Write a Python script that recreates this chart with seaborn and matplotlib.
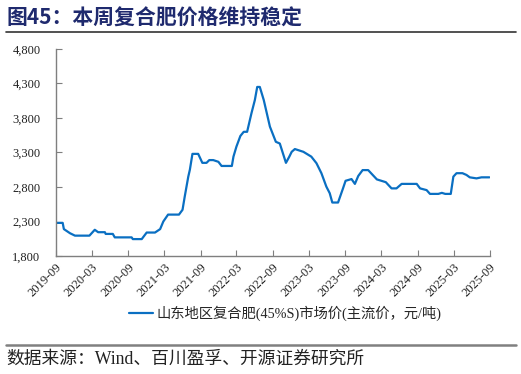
import pandas as pd
import numpy as np
import seaborn as sns
import matplotlib.pyplot as plt
import matplotlib.dates as mdates
from matplotlib.lines import Line2D
from matplotlib.ticker import FuncFormatter

# Data (Shandong compound fertilizer 45%S, yuan/ton)
dates = [
    "2019-09-01", "2019-10-06", "2019-10-12", "2019-11-12", "2019-12-07", "2020-02-18",
    "2020-03-16", "2020-04-02", "2020-05-06", "2020-05-10", "2020-06-15", "2020-06-25",
    "2020-09-18", "2020-09-24", "2020-11-08", "2020-12-03", "2021-01-14", "2021-02-09",
    "2021-02-25", "2021-03-21", "2021-05-15", "2021-06-02", "2021-06-13", "2021-07-01",
    "2021-07-09", "2021-07-22", "2021-08-20", "2021-09-10", "2021-10-01", "2021-10-15",
    "2021-11-04", "2021-11-30", "2021-12-16", "2022-02-06", "2022-02-14", "2022-03-01",
    "2022-03-21", "2022-04-07", "2022-04-24", "2022-05-16", "2022-06-02", "2022-06-14",
    "2022-06-27", "2022-07-17", "2022-08-17", "2022-09-16", "2022-10-06", "2022-11-06",
    "2022-11-23", "2022-12-05", "2022-12-21", "2023-02-02", "2023-03-14", "2023-04-09",
    "2023-05-04", "2023-05-29", "2023-06-15", "2023-06-28", "2023-07-27", "2023-08-21",
    "2023-09-03", "2023-10-03", "2023-10-20", "2023-11-06", "2023-11-28", "2023-12-26",
    "2024-02-08", "2024-03-24", "2024-04-22", "2024-05-17", "2024-06-12", "2024-08-27",
    "2024-09-13", "2024-10-16", "2024-11-02", "2024-12-14", "2025-01-01", "2025-01-18",
    "2025-02-15", "2025-02-28", "2025-03-16", "2025-04-15", "2025-05-05", "2025-05-22",
    "2025-06-25", "2025-07-20", "2025-08-29",
]
prices = [
    2280, 2280, 2190, 2130, 2095, 2095,
    2180, 2145, 2145, 2120, 2120, 2070,
    2070, 2045, 2045, 2140, 2140, 2190,
    2300, 2400, 2400, 2470, 2660, 2950,
    3050, 3280, 3280, 3150, 3150, 3190,
    3190, 3165, 3105, 3105, 3240, 3385,
    3540, 3600, 3600, 3870, 4060, 4250,
    4250, 4060, 3675, 3455, 3430, 3150,
    3240, 3310, 3350, 3310, 3240, 3145,
    3000, 2805, 2710, 2575, 2575, 2780,
    2890, 2915, 2845, 2960, 3045, 3045,
    2910, 2870, 2780, 2780, 2845, 2845,
    2780, 2755, 2700, 2700, 2715, 2700,
    2700, 2950, 3000, 3000, 2975, 2940,
    2925, 2940, 2940,
]
series_name = "山东地区复合肥(45%S)市场价(主流价，元/吨)"
y_ticks = [1800, 2300, 2800, 3300, 3800, 4300, 4800]
x_ticks = ["2019-09", "2020-03", "2020-09", "2021-03", "2021-09", "2022-03", "2022-09",
           "2023-03", "2023-09", "2024-03", "2024-09", "2025-03", "2025-09"]

df = pd.DataFrame({"date": pd.to_datetime(dates), "price": prices, "series": series_name})

sns.set_style("ticks")
plt.rcParams['font.family'] = ['Liberation Serif', 'Noto Sans CJK SC']

fig = plt.figure(figsize=(5.21, 3.74), dpi=100)
ax = fig.add_axes([0.107, 0.3155, 0.8335, 0.5535])

sns.lineplot(data=df, x="date", y="price", hue="series", palette=["#0A6FC2"],
             linewidth=1.6, ax=ax)

ax.set_xlim(pd.Timestamp("2019-09-01"), pd.Timestamp("2025-09-01"))
ax.set_ylim(1800, 4800)
ax.set_yticks(y_ticks)
ax.yaxis.set_major_formatter(FuncFormatter(lambda v, p: f"{int(v):,}"))
ax.set_xticks(pd.to_datetime(x_ticks))
ax.xaxis.set_major_formatter(mdates.DateFormatter("%Y-%m"))
ax.set_xlabel("")
ax.set_ylabel("")

for s in ["top", "right"]:
    ax.spines[s].set_visible(False)
for s in ["left", "bottom"]:
    ax.spines[s].set_color("#7f7f7f")
    ax.spines[s].set_linewidth(1.0)
ax.tick_params(axis="both", direction="in", length=4, color="#7f7f7f",
               labelsize=9, labelcolor="#222222")
ax.tick_params(axis="y", pad=11)
plt.setp(ax.get_xticklabels(), rotation=45, ha="right", rotation_mode="anchor")

handles, labels = ax.get_legend_handles_labels()
ax.legend(handles, labels, loc="center left", bbox_to_anchor=(0.222, 0.163),
          bbox_transform=fig.transFigure, frameon=False, handlelength=1.7,
          handletextpad=0.25, prop={"size": 10.3, "family": ['Liberation Serif', 'Noto Sans CJK SC']})

fig.text(0.012, 0.952, "图45：本周复合肥价格维持稳定", fontsize=15, fontweight="bold",
         color="#1F2A6E", va="center", ha="left", family=['Noto Sans CJK SC'])
fig.add_artist(Line2D([0.012, 0.99], [0.914, 0.914], color="#333333", linewidth=1.2))
fig.add_artist(Line2D([0.012, 0.99], [0.078, 0.078], color="#808080", linewidth=1.8))
fig.text(0.012, 0.04, "数据来源：Wind、百川盈孚、开源证券研究所", fontsize=12.8,
         color="#222222", va="center", ha="left")

fig.savefig("out.png", dpi=100)
